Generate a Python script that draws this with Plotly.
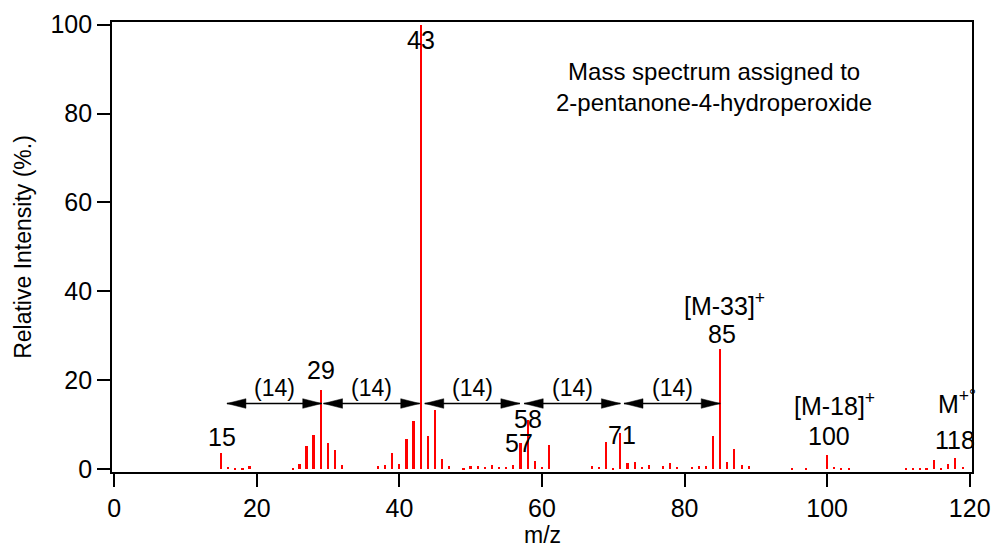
import plotly.graph_objects as go

# ---- data: m/z values and relative intensities (%) ----
mz = [15, 16, 17, 18, 19,
      25, 26, 27, 28, 29, 30, 31, 32,
      37, 38, 39, 40, 41, 42, 43, 44, 45, 46, 47,
      49, 50, 51, 52, 53, 54, 55, 56, 57, 58, 59, 60, 61,
      67, 68, 69, 70, 71, 72, 73, 74, 75, 77, 78, 79,
      81, 82, 83, 84, 85, 86, 87, 88, 89,
      95, 97, 100, 101, 102, 103,
      111, 112, 113, 114, 115, 116, 117, 118, 119]
intensity = [3.6, 0.6, 0.4, 0.4, 0.8,
             0.3, 1.2, 5.2, 7.7, 17.9, 6.0, 4.3, 1.0,
             0.7, 1.0, 3.7, 1.2, 6.9, 10.9, 100.0, 7.5, 13.3, 2.4, 0.75,
             0.4, 0.75, 0.75, 0.5, 1.0, 0.5, 0.5, 1.0, 6.0, 11.2, 1.9, 0.6, 5.5,
             0.8, 0.45, 6.2, 0.4, 8.2, 1.5, 1.6, 0.45, 1.0, 0.75, 1.4, 0.45,
             0.45, 0.75, 0.7, 7.6, 27.0, 1.7, 4.6, 0.9, 0.75,
             0.4, 0.4, 3.3, 0.6, 0.3, 0.3,
             0.3, 0.25, 0.3, 0.4, 2.0, 0.25, 1.1, 2.5, 0.45]

x_ticks = [0, 20, 40, 60, 80, 100, 120]
y_ticks = [0, 20, 40, 60, 80, 100]

# peak labels: text, x, y
label_text = ["43", "29", "15", "58", "57", "71", "85", "[M-33]<sup>+</sup>",
              "100", "[M-18]<sup>+</sup>", "118", "M<sup>+°</sup>"]
label_x = [43.0, 29.0, 15.1, 58.0, 56.8, 71.2, 85.2, 85.6, 100.3, 101.0, 118.0, 118.2]
label_y = [96.5, 22.3, 7.3, 11.3, 5.9, 7.7, 30.5, 37.2, 7.4, 14.6, 6.6, 15.2]

# (14) spacing arrows
arrow_from = [15.8, 29.35, 43.55, 57.5, 71.5]
arrow_to = [29.1, 42.85, 56.9, 71.0, 85.0]
arrow_y = 14.8
arrow_label = "(14)"
arrow_label_y = 18.4

title_text = "Mass spectrum assigned to<br>2-pentanone-4-hydroperoxide"
x_title = "m/z"
y_title = "Relative Intensity (%.)"

FONT = "Liberation Sans, Arial, sans-serif"

fig = go.Figure()
fig.add_trace(go.Bar(x=mz, y=intensity, width=0.28,
                     marker=dict(color="#ff0000", line=dict(width=0)),
                     showlegend=False))

annotations = []
for t, x, y in zip(label_text, label_x, label_y):
    annotations.append(dict(x=x, y=y, xref="x", yref="y", text=t, showarrow=False,
                            xanchor="center", yanchor="middle",
                            font=dict(family=FONT, size=25, color="black")))

shapes = []
for a, b in zip(arrow_from, arrow_to):
    shapes.append(dict(type="line", x0=a, x1=b, y0=arrow_y, y1=arrow_y,
                       xref="x", yref="y", line=dict(color="black", width=1.6)))
    shapes.append(dict(type="path", xref="x", yref="y", xsizemode="pixel", ysizemode="pixel",
                       xanchor=b, yanchor=arrow_y, path="M0,0 L-19,4.8 L-19,-4.8 Z",
                       fillcolor="black", line=dict(color="black", width=0.5)))
    shapes.append(dict(type="path", xref="x", yref="y", xsizemode="pixel", ysizemode="pixel",
                       xanchor=a, yanchor=arrow_y, path="M0,0 L19,4.8 L19,-4.8 Z",
                       fillcolor="black", line=dict(color="black", width=0.5)))
    annotations.append(dict(x=(a + b) / 2, y=arrow_label_y, xref="x", yref="y",
                            text=arrow_label, showarrow=False, xanchor="center",
                            yanchor="middle", font=dict(family=FONT, size=23, color="black")))

annotations.append(dict(x=84.1, y=85.9, xref="x", yref="y", text=title_text,
                        showarrow=False, xanchor="center", yanchor="middle", align="center",
                        font=dict(family=FONT, size=24, color="black")))

# x axis title placed below the tick labels
annotations.append(dict(x=0.5, y=-0.14, xref="paper", yref="paper", text=x_title,
                        showarrow=False, xanchor="center", yanchor="middle",
                        font=dict(family=FONT, size=23, color="black")))

fig.update_layout(
    width=993, height=549,
    margin=dict(l=112, r=21, t=22, b=77),
    paper_bgcolor="white", plot_bgcolor="white",
    font=dict(family=FONT, size=23, color="black"),
    annotations=annotations, shapes=shapes,
    bargap=0,
)
fig.update_xaxes(range=[-0.32, 120.32], tickvals=x_ticks, ticks="outside", ticklen=13,
                 tickwidth=1.6, tickcolor="black", showline=True, linecolor="black",
                 linewidth=1.8, mirror=True, showgrid=False, zeroline=False, automargin=False,
                 tickfont=dict(size=25))
fig.update_yaxes(range=[-0.6, 100.58], tickvals=y_ticks, ticks="outside", ticklen=13,
                 tickwidth=1.6, tickcolor="black", showline=True, linecolor="black",
                 linewidth=1.8, mirror=True, showgrid=False, zeroline=False, automargin=False,
                 tickfont=dict(size=25),
                 title=dict(text=y_title, font=dict(size=23), standoff=12))

fig.write_html("out.html")
